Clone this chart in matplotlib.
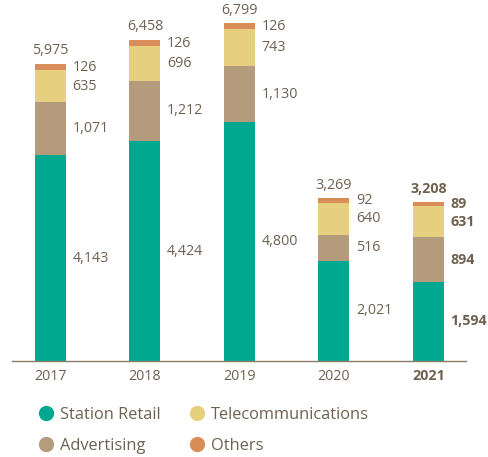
import matplotlib.pyplot as plt
from matplotlib.lines import Line2D

years = ["2017", "2018", "2019", "2020", "2021"]
station_retail = [4143, 4424, 4800, 2021, 1594]
advertising = [1071, 1212, 1130, 516, 894]
telecom = [635, 696, 743, 640, 631]
others = [126, 126, 126, 92, 89]
totals = [5975, 6458, 6799, 3269, 3208]

colors = ["#00a88f", "#b39b7c", "#e6cf7e", "#d98d58"]
names = ["Station Retail", "Advertising", "Telecommunications", "Others"]
txt = "#6e6150"

plt.rcParams['font.family'] = ['Open Sans', 'DejaVu Sans']

fig = plt.figure(figsize=(4.89, 4.57), dpi=100)
ax = fig.add_axes([12/489, 96/457, 454/489, 348/457])

x = list(range(len(years)))
w = 0.328
fs = 10.3
series = [station_retail, advertising, telecom, others]
bottom = [0] * len(years)
for vals, c in zip(series, colors):
    ax.bar(x, vals, w, bottom=bottom, color=c, linewidth=0)
    for i, v in enumerate(vals):
        wt = "bold" if i == 4 else "normal"
        ax.text(i + w/2 + 0.07, bottom[i] + v/2, f"{v:,}", ha="left", va="center",
                fontsize=fs, color=txt, fontweight=wt)
    bottom = [b + v for b, v in zip(bottom, vals)]

for i, t in enumerate(totals):
    wt = "bold" if i == 4 else "normal"
    ax.text(i, t + 110, f"{t:,}", ha="center", va="bottom", fontsize=fs,
            color=txt, fontweight=wt)

ax.set_xlim(-0.407, 4.397)
ax.set_ylim(0, 7000)
for s in ["top", "right", "left"]:
    ax.spines[s].set_visible(False)
ax.spines["bottom"].set_color("#8c7d68")
ax.spines["bottom"].set_linewidth(1)
ax.set_yticks([])
ax.set_xticks(x)
ax.set_xticklabels(years, fontsize=fs, color=txt)
ax.tick_params(axis="x", length=0, pad=6)
ax.get_xticklabels()[4].set_fontweight("bold")

handles = [Line2D([], [], marker="o", linestyle="", markersize=11,
                  markerfacecolor=c, markeredgewidth=0) for c in colors]
leg = fig.legend(handles, names, ncol=2, loc="upper left",
                 bbox_to_anchor=(22/489, 1 - 392/457), frameon=False,
                 fontsize=11.8, labelcolor=txt, handletextpad=0.3,
                 columnspacing=1.67, labelspacing=0.92, handlelength=1.1)

fig.savefig("out.png", dpi=100)
